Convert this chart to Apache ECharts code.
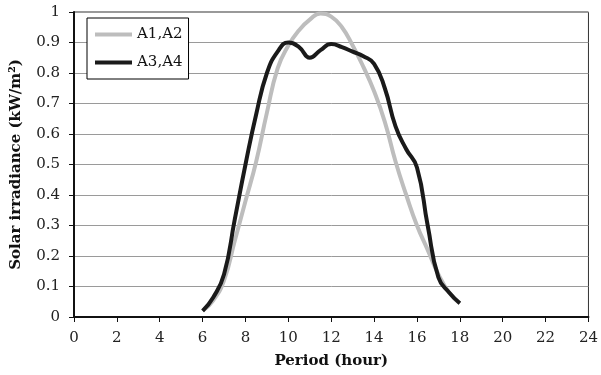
<!DOCTYPE html>
<html lang="en">
<head>
<meta charset="UTF-8">
<title>Solar irradiance</title>
<script src="https://cdn.jsdelivr.net/npm/echarts@6/dist/echarts.min.js"></script>
<style>
  body { margin: 0; padding: 0; background: #fff; }
  #chart { width: 601px; height: 375px; }
</style>
</head>
<body>
<div id="chart"></div>
<script>
  // hours of the day (x values)
  const hours = [6, 6.5, 7, 7.5, 8, 8.5, 9, 9.5, 10, 10.5, 11, 11.5, 12,
                 12.5, 13, 13.5, 14, 14.5, 15, 15.5, 16, 16.5, 17, 17.5, 18];
  // A1,A2 irradiance (kW/m2)
  const a12 = [0.02, 0.055, 0.12, 0.25, 0.38, 0.51, 0.67, 0.815, 0.89, 0.94, 0.975, 0.995, 0.985,
               0.95, 0.89, 0.82, 0.74, 0.64, 0.51, 0.40, 0.30, 0.22, 0.14, 0.08, 0.045];
  // A3,A4 irradiance (kW/m2)
  const a34 = [0.02, 0.065, 0.14, 0.32, 0.50, 0.665, 0.80, 0.87, 0.90, 0.885, 0.85, 0.875, 0.895,
               0.885, 0.87, 0.855, 0.83, 0.75, 0.625, 0.55, 0.49, 0.30, 0.13, 0.08, 0.045];
  const xTicks = { min: 0, max: 24, step: 2 };
  const yTicks = { min: 0, max: 1, step: 0.1 };

  const serif = 'DejaVu Serif';
  const chart = echarts.init(document.getElementById('chart'));

  const pairs = (ys) => hours.map((h, i) => [h, ys[i]]);

  chart.setOption({
    animation: false,
    grid: {
      left: 74, right: 11, top: 12, bottom: 58,
      show: true, borderColor: '#333', borderWidth: 1, backgroundColor: 'transparent'
    },
    legend: {
      orient: 'vertical',
      left: 87, top: 18,
      padding: [9, 6, 9, 8],
      itemGap: 13,
      itemWidth: 37, itemHeight: 4,
      itemTextGap: 2,
      icon: 'rect',
      backgroundColor: '#fff',
      borderColor: '#000', borderWidth: 1,
      textStyle: { fontFamily: serif, fontSize: 15, color: '#111' },
      data: ['A1,A2', 'A3,A4']
    },
    xAxis: {
      type: 'value',
      min: xTicks.min, max: xTicks.max, interval: xTicks.step,
      name: 'Period (hour)',
      nameLocation: 'middle',
      nameGap: 37,
      nameTextStyle: { fontFamily: serif, fontWeight: 'bold', fontSize: 15, color: '#111' },
      axisLine: { lineStyle: { color: '#111', width: 2 } },
      axisTick: { show: true, inside: false, length: 5, lineStyle: { color: '#111' } },
      axisLabel: { margin: 14, fontFamily: serif, fontSize: 15, color: '#222' },
      splitLine: { show: false }
    },
    yAxis: {
      type: 'value',
      min: yTicks.min, max: yTicks.max, interval: yTicks.step,
      name: 'Solar irradiance (kW/m²)',
      nameLocation: 'middle',
      nameRotate: 90,
      nameGap: 50,
      nameTextStyle: { fontFamily: serif, fontWeight: 'bold', fontSize: 15, color: '#111' },
      axisLine: { show: true, lineStyle: { color: '#111', width: 2 } },
      axisTick: { show: true, inside: false, length: 5, lineStyle: { color: '#111' } },
      axisLabel: {
        margin: 14, fontFamily: serif, fontSize: 15, color: '#222',
        formatter: (v) => String(parseFloat(v.toFixed(1)))
      },
      splitLine: { show: true, lineStyle: { color: '#9a9a9a', width: 1 } }
    },
    series: [
      {
        name: 'A1,A2', type: 'line', data: pairs(a12),
        smooth: 0.5, symbol: 'none',
        itemStyle: { color: '#bdbdbd' },
        lineStyle: { color: '#bdbdbd', width: 4 }
      },
      {
        name: 'A3,A4', type: 'line', data: pairs(a34),
        smooth: 0.5, symbol: 'none',
        itemStyle: { color: '#1a1a1a' },
        lineStyle: { color: '#1a1a1a', width: 4 }
      }
    ]
  });
</script>
</body>
</html>
